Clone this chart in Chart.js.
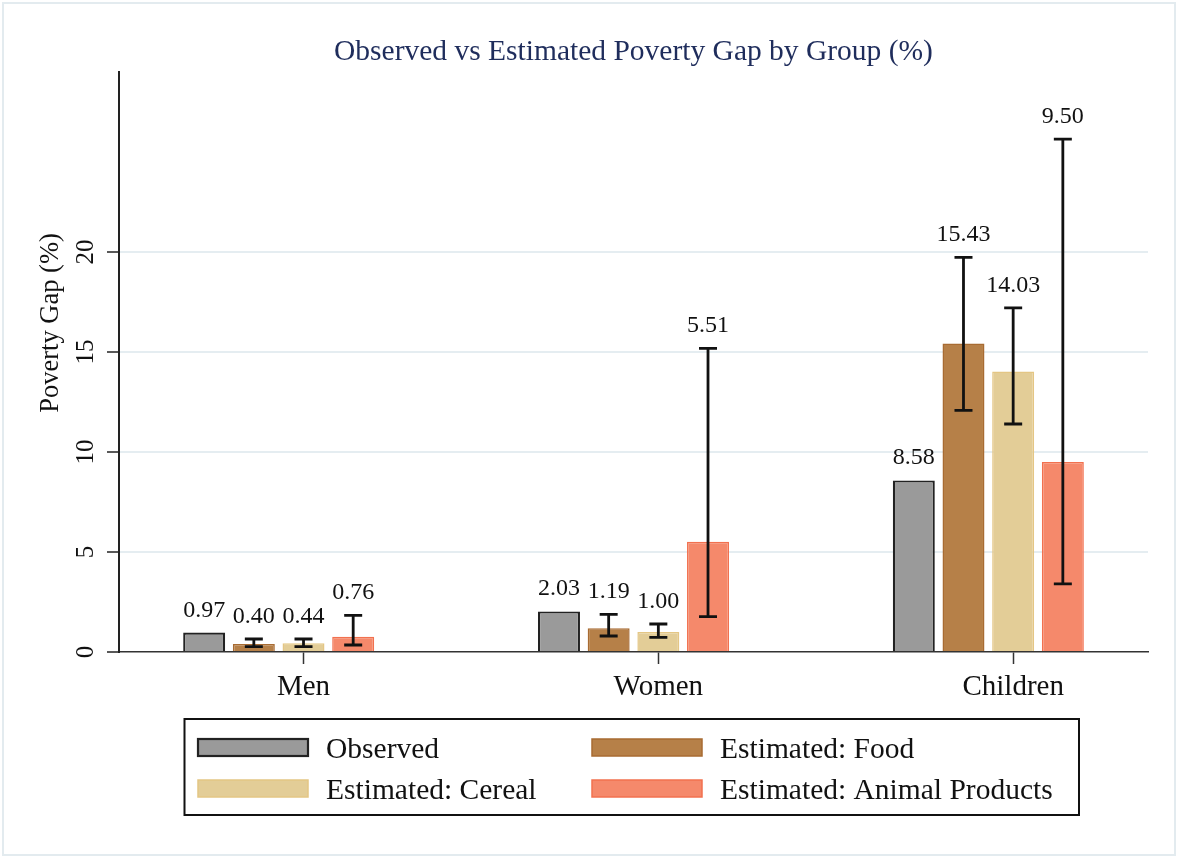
<!DOCTYPE html>
<html>
<head>
<meta charset="utf-8">
<title>Poverty Gap by Group</title>
<script src="https://cdn.jsdelivr.net/npm/chart.js@4.4.1/dist/chart.umd.min.js"></script>
<style>
  body { margin: 0; background: #fff; }
  canvas { display: block; }
</style>
</head>
<body>
<canvas id="gapChart" width="1177" height="857"></canvas>
<script>
// Groups and series
const groups = ['Men', 'Women', 'Children'];
const seriesNames = ['Observed', 'Estimated: Food', 'Estimated: Cereal', 'Estimated: Animal Products'];

// Poverty gap (%) per group
const observed = [0.97, 2.03, 8.58];
const estFood = [0.40, 1.19, 15.43];
const estCereal = [0.44, 1.00, 14.03];
const estAnimal = [0.76, 5.51, 9.50];

// Confidence intervals for the estimates
const foodLow = [0.27, 0.80, 12.08];
const foodHigh = [0.65, 1.88, 19.73];
const cerealLow = [0.27, 0.73, 11.40];
const cerealHigh = [0.65, 1.40, 17.21];
const animalLow = [0.35, 1.77, 3.41];
const animalHigh = [1.83, 15.18, 25.64];

// Y axis tick labels
const yTicks = [0, 5, 10, 15, 20];

const SERIF = '"Liberation Serif", "Times New Roman", serif';
const CAT_PCT = 0.56;

const toPoints = (vals) => vals.map((v, i) => ({ x: i, y: v }));

// error bars, value labels, rotated y labels and the boxed legend
const decorations = {
  id: 'decorations',
  beforeDraw(chart) {
    const ctx = chart.ctx;
    ctx.save();
    ctx.fillStyle = '#fff';
    ctx.fillRect(0, 0, chart.width, chart.height);
    ctx.strokeStyle = '#e3ebef';
    ctx.lineWidth = 2;
    ctx.strokeRect(3, 3, chart.width - 5, chart.height - 5);
    ctx.restore();
  },
  afterDatasetsDraw(chart) {
    const ctx = chart.ctx;
    const yScale = chart.scales.y;
    ctx.save();
    chart.data.datasets.forEach((ds, d) => {
      const meta = chart.getDatasetMeta(d);
      meta.data.forEach((bar, i) => {
        let top = bar.y;
        if (ds.ciLow) {
          const yHi = yScale.getPixelForValue(ds.ciHigh[i]);
          const yLo = yScale.getPixelForValue(ds.ciLow[i]);
          ctx.strokeStyle = '#111';
          ctx.lineWidth = 2.8;
          ctx.beginPath();
          ctx.moveTo(bar.x, yHi);
          ctx.lineTo(bar.x, yLo);
          ctx.moveTo(bar.x - 9, yHi);
          ctx.lineTo(bar.x + 9, yHi);
          ctx.moveTo(bar.x - 9, yLo);
          ctx.lineTo(bar.x + 9, yLo);
          ctx.stroke();
          top = Math.min(top, yHi);
        }
        ctx.fillStyle = '#111';
        ctx.font = '24px ' + SERIF;
        ctx.textAlign = 'center';
        ctx.textBaseline = 'alphabetic';
        ctx.fillText(ds.data[i].y.toFixed(2), bar.x, top - 16);
      });
    });
    ctx.restore();
  },
  afterDraw(chart) {
    const ctx = chart.ctx;
    const yScale = chart.scales.y;
    ctx.save();

    // vertical tick labels
    ctx.fillStyle = '#111';
    ctx.font = '25px ' + SERIF;
    ctx.textAlign = 'center';
    ctx.textBaseline = 'middle';
    yTicks.forEach(v => {
      ctx.save();
      ctx.translate(86.5, yScale.getPixelForValue(v));
      ctx.rotate(-Math.PI / 2);
      ctx.fillText(String(v), 0, 0);
      ctx.restore();
    });

    // axis title
    ctx.save();
    ctx.font = '26.5px ' + SERIF;
    ctx.translate(51, 323);
    ctx.rotate(-Math.PI / 2);
    ctx.fillText('Poverty Gap (%)', 0, 0);
    ctx.restore();

    // legend box, two columns
    ctx.strokeStyle = '#111';
    ctx.lineWidth = 2;
    ctx.strokeRect(184.5, 719, 894.5, 96);
    ctx.font = '29.5px ' + SERIF;
    ctx.textAlign = 'left';
    ctx.textBaseline = 'alphabetic';
    chart.data.datasets.forEach((ds, k) => {
      const col = k % 2, row = Math.floor(k / 2);
      const sx = col ? 592 : 198;
      const sy = row ? 780 : 739;
      ctx.fillStyle = ds.backgroundColor;
      ctx.fillRect(sx, sy, 110, 17);
      ctx.strokeStyle = ds.borderColor;
      ctx.lineWidth = ds.borderWidth;
      ctx.strokeRect(sx, sy, 110, 17);
      ctx.fillStyle = '#111';
      ctx.fillText(ds.label, col ? 720 : 326, row ? 799 : 758);
    });
    ctx.restore();
  }
};

const ctx = document.getElementById('gapChart').getContext('2d');

const gapChart = new Chart(ctx, {
  type: 'bar',
  data: {
    datasets: [
      { label: seriesNames[0], data: toPoints(observed),
        backgroundColor: '#9a9a9a', borderColor: '#222', borderWidth: 2.2 },
      { label: seriesNames[1], data: toPoints(estFood), ciLow: foodLow, ciHigh: foodHigh,
        backgroundColor: '#b68048', borderColor: '#a86b32', borderWidth: 1.5 },
      { label: seriesNames[2], data: toPoints(estCereal), ciLow: cerealLow, ciHigh: cerealHigh,
        backgroundColor: '#e3cd97', borderColor: '#e4c684', borderWidth: 1.5 },
      { label: seriesNames[3], data: toPoints(estAnimal), ciLow: animalLow, ciHigh: animalHigh,
        backgroundColor: '#f5896b', borderColor: '#f2714f', borderWidth: 1.5 }
    ]
  },
  options: {
    responsive: false,
    animation: false,
    categoryPercentage: CAT_PCT,
    barPercentage: 0.845,
    layout: { padding: { left: 0, right: 29, top: 0, bottom: 0 } },
    plugins: {
      legend: { display: false },
      tooltip: { enabled: false },
      title: {
        display: true,
        text: 'Observed vs Estimated Poverty Gap by Group (%)',
        color: '#1f2d5c',
        font: { family: SERIF, size: 29.5, weight: 'normal' },
        padding: { top: 35, bottom: 1.6 },
        fullSize: false
      }
    },
    scales: {
      x: {
        type: 'linear',
        offset: false,
        min: -0.45,
        max: 2.45,
        // group label sits under the third bar of each group
        afterBuildTicks: (scale) => {
          scale.ticks = groups.map((g, i) => ({ value: i + CAT_PCT / 8 }));
        },
        afterFit: (scale) => { scale.height = 205; },
        ticks: {
          callback: (value, index) => groups[index],
          color: '#111',
          padding: 6,
          font: { family: SERIF, size: 29 }
        },
        grid: { offset: false, drawOnChartArea: false, tickLength: 12, tickColor: '#333', tickWidth: 1.5 },
        border: { color: '#333', width: 1.5 }
      },
      y: {
        min: 0,
        max: 29,
        afterBuildTicks: (scale) => {
          scale.ticks = yTicks.map(v => ({ value: v }));
        },
        afterFit: (scale) => { scale.width = 119; },
        ticks: { display: false },
        grid: {
          color: (c) => c.tick && c.tick.value === 0 ? 'rgba(0,0,0,0)' : '#e5edf1',
          lineWidth: 2,
          tickLength: 12,
          tickColor: '#222',
          tickWidth: 1.5
        },
        border: { color: '#222', width: 2 }
      }
    }
  },
  plugins: [decorations]
});
</script>
</body>
</html>
